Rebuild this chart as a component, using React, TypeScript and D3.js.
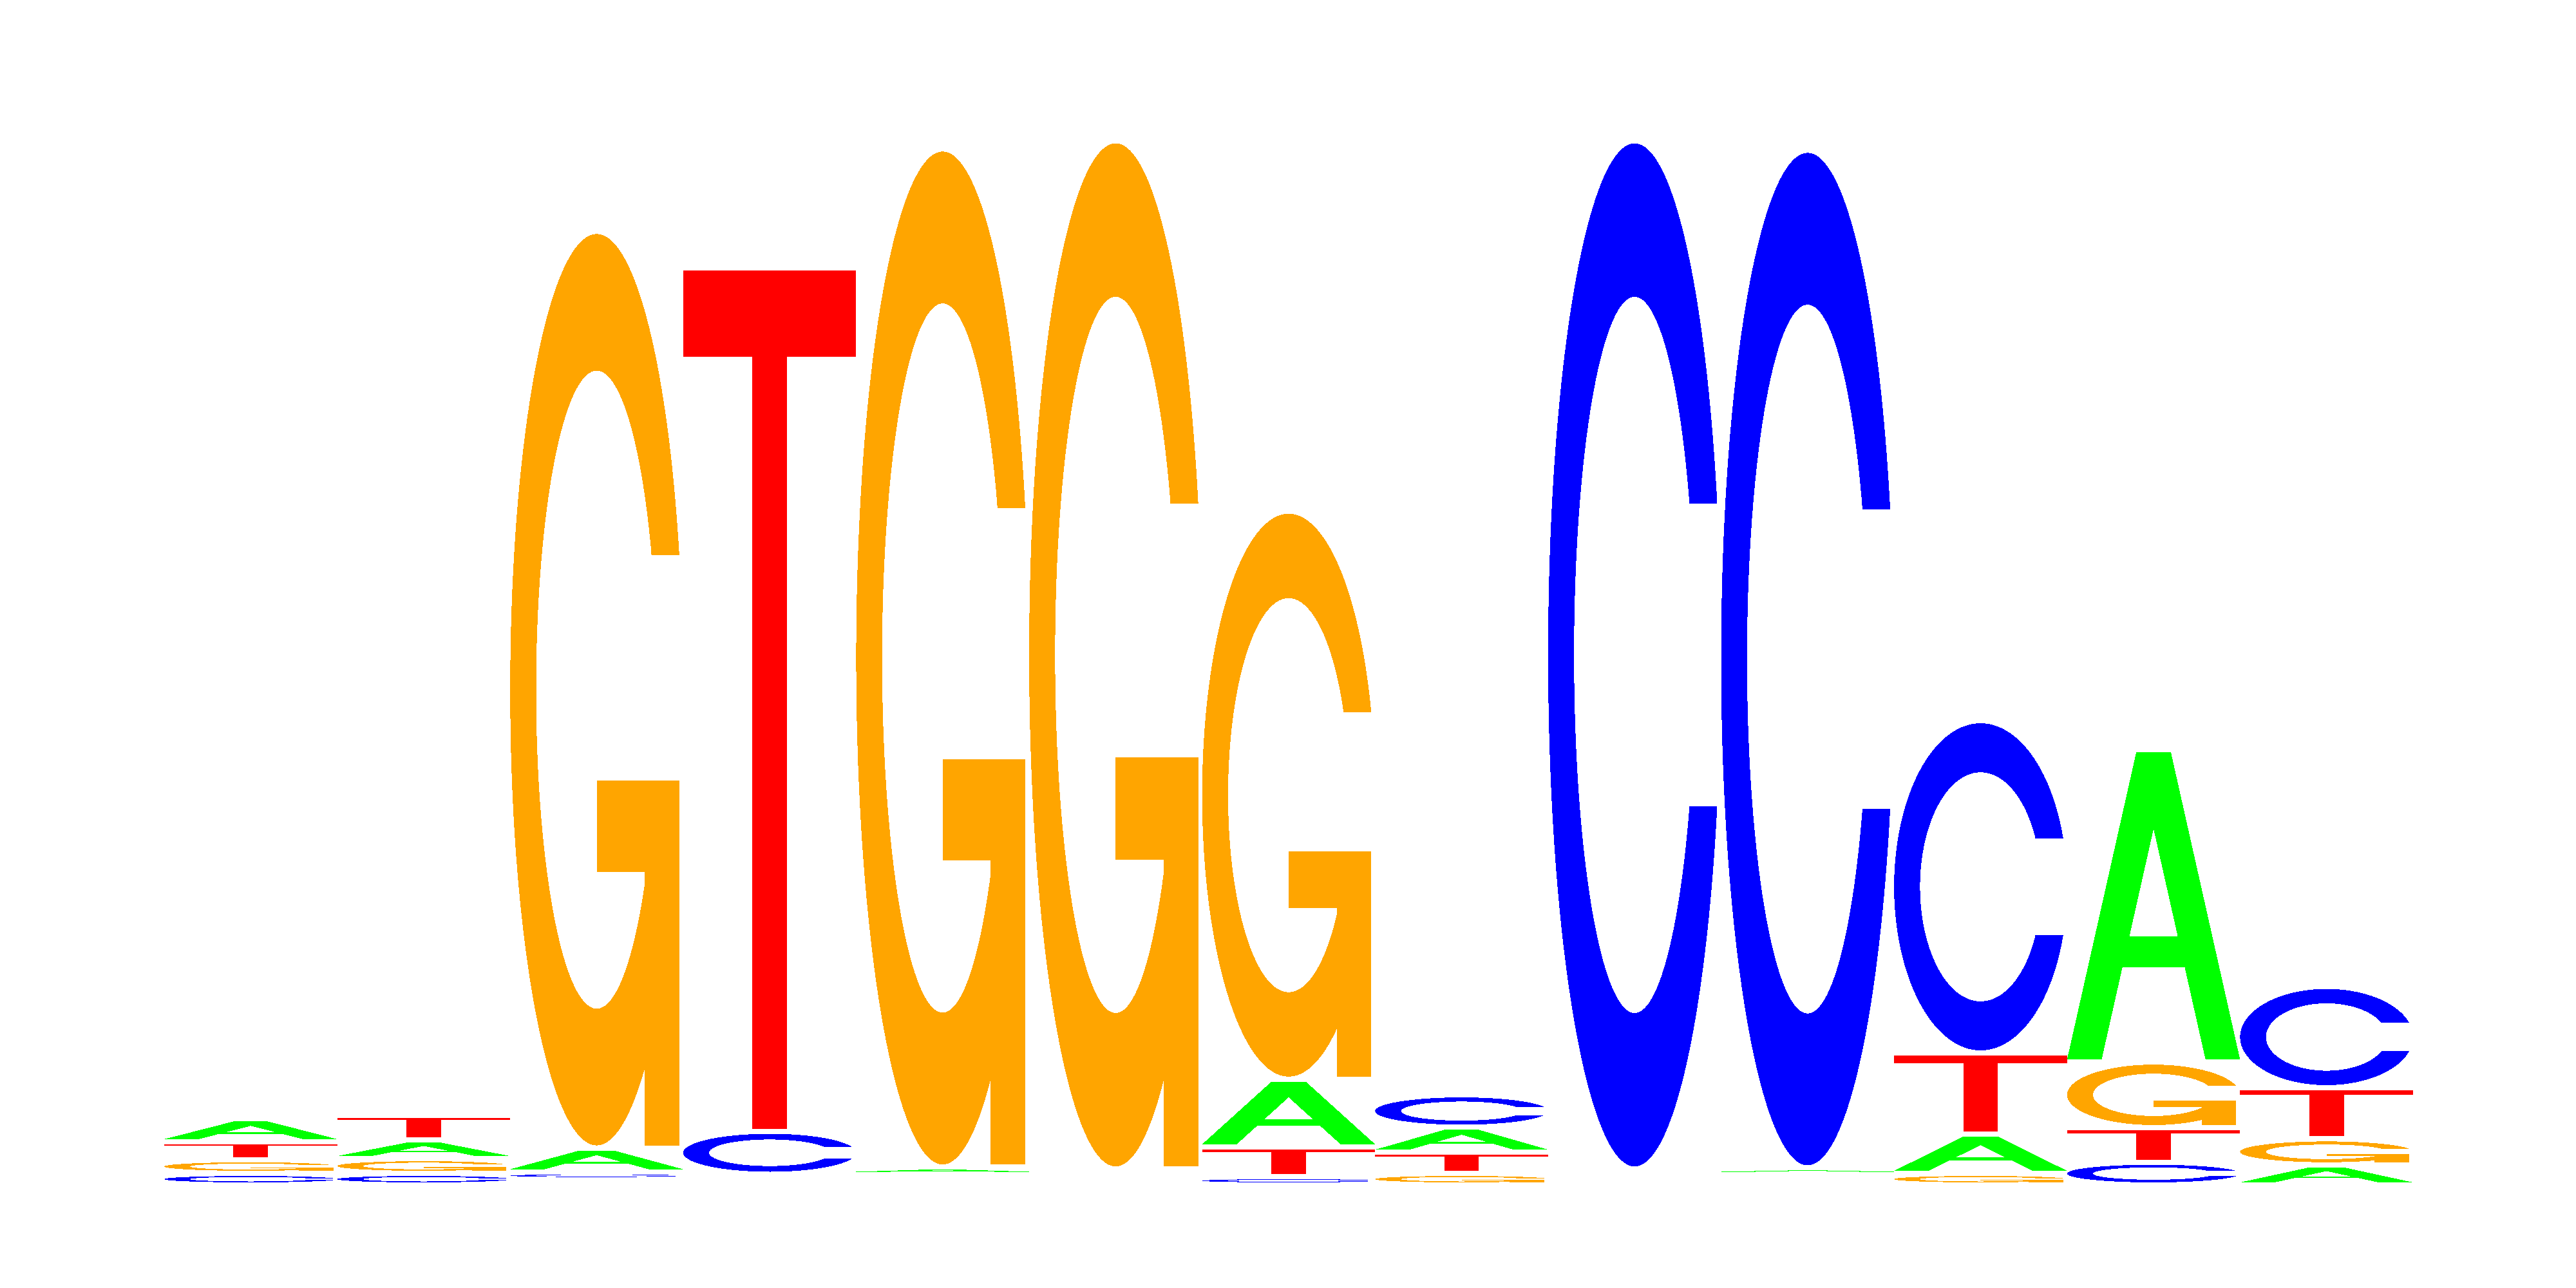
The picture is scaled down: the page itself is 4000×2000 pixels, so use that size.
import { useEffect, useRef } from 'react';
import * as d3 from 'd3';

// Sequence logo, 13 positions. Heights are in bits.
const positions = d3.range(1, 14);
const bases = ['A', 'C', 'G', 'T'];

const aBits = [0.033, 0.025, 0.035, 0.0003, 0.004, 0.0003, 0.117, 0.037, 0.0003, 0.0025, 0.064, 0.575, 0.028];
const cBits = [0.012, 0.012, 0.005, 0.071, 0.0003, 0.0003, 0.006, 0.051, 1.914, 1.894, 0.612, 0.033, 0.18];
const gBits = [0.016, 0.018, 1.705, 0.0003, 1.895, 1.914, 1.053, 0.012, 0.0003, 0.0003, 0.012, 0.113, 0.039];
const tBits = [0.024, 0.036, 0.0003, 1.605, 0.0003, 0.0003, 0.046, 0.03, 0.0003, 0.0003, 0.142, 0.055, 0.086];

const colors: Record<string, string> = {
  A: '#00ff00',
  C: '#0000ff',
  G: '#ffa500',
  T: '#ff0000',
};

type Pt = [number, number];

// Letter outlines in a unit box (y up), same construction as the classic seqLogo glyphs
function seq(a: number, b: number, n: number) {
  return d3.range(n).map(i => a + (b - a) * i / (n - 1));
}

function ringOutline(): Pt[] {
  const angle1 = seq(0.3 + Math.PI / 2, Math.PI, 100);
  const angle2 = seq(Math.PI, 1.5 * Math.PI, 100);
  const l: Pt[] = [...angle1, ...angle2].map(a => [0.5 + 0.5 * Math.sin(a), 0.5 + 0.5 * Math.cos(a)]);
  const outer: Pt[] = [...l, ...l.slice().reverse().map(([x, y]) => [x, 1 - y] as Pt)];
  const maxY1 = d3.max(angle1, a => 0.5 + 0.5 * Math.cos(a)) as number;
  const i1: Pt[] = angle1.map(a => [0.5 + 0.35 * Math.sin(a), 0.5 + 0.35 * Math.cos(a)] as Pt)
    .filter(p => p[1] <= maxY1);
  i1[0] = [i1[0][0], maxY1];
  const i2: Pt[] = angle2.map(a => [0.5 + 0.35 * Math.sin(a), 0.5 + 0.35 * Math.cos(a)] as Pt);
  const inn = [...i1, ...i2];
  const inner: Pt[] = [...inn, ...inn.slice().reverse().map(([x, y]) => [x, 1 - y] as Pt)];
  return [...outer, ...inner.slice().reverse()];
}

const r1 = 0.5 + 0.5 * Math.sin(0.3 + Math.PI / 2);

// each inner array is drawn as its own path; A keeps its hole via evenodd
const glyphs: Record<string, Pt[][][]> = {
  A: [[
    [[0, 0], [0.4, 1], [0.6, 1], [1, 0], [0.8, 0], [0.68, 0.3], [0.32, 0.3], [0.2, 0]],
    [[0.36, 0.4], [0.5, 0.75], [0.64, 0.4]],
  ]],
  C: [[ringOutline()]],
  G: [
    [ringOutline()],
    [[[r1, 0.4], [0.5, 0.4], [0.5, 0.3], [r1 - 0.2, 0.3], [r1 - 0.2, 0], [r1, 0]]],
  ],
  T: [[[[0, 1], [1, 1], [1, 0.9], [0.6, 0.9], [0.6, 0], [0.4, 0], [0.4, 0.9], [0, 0.9]]]],
};

const width = 4000;
const height = 2000;
const baseline = 1836;
const gap = 8;

export default function App() {
  const svgRef = useRef<SVGSVGElement>(null);

  useEffect(() => {
    if (!svgRef.current) return;
    d3.select(svgRef.current).selectAll('*').remove();

    const svg = d3.select(svgRef.current)
      .attr('width', width)
      .attr('height', height)
      .attr('viewBox', `0 0 ${width} ${height}`);

    svg.append('rect')
      .attr('width', width)
      .attr('height', height)
      .attr('fill', '#ffffff');

    const x = d3.scaleBand<number>()
      .domain(positions)
      .range([255, 3747])
      .padding(0);

    const y = d3.scaleLinear()
      .domain([0, 2])
      .range([baseline, baseline - 1660]);

    const values: Record<string, number[]> = { A: aBits, C: cBits, G: gBits, T: tBits };

    const line = d3.line<Pt>();
    const g = svg.append('g').attr('shape-rendering', 'crispEdges');

    positions.forEach((pos, i) => {
      const x0 = x(pos) || 0;
      const w = x.bandwidth();
      // smallest letter at the bottom
      const stack = bases
        .map(b => ({ base: b, bits: values[b][i] }))
        .sort((p, q) => p.bits - q.bits);

      let yBottom = y(0);
      stack.forEach(s => {
        const h = y(0) - y(s.bits);
        if (h >= 1) {
          glyphs[s.base].forEach(part => {
            const d = part
              .map(poly => line(poly.map(([px, py]) => [x0 + w * px, yBottom - h * py] as Pt)) + 'Z')
              .join('');
            g.append('path')
              .attr('d', d)
              .attr('fill', colors[s.base])
              .attr('fill-rule', 'evenodd');
          });
        }
        yBottom -= h + gap;
      });
    });
  }, []);

  return (
    <svg ref={svgRef} style={{ position: 'absolute', left: 0, top: 0, display: 'block' }} />
  );
}
